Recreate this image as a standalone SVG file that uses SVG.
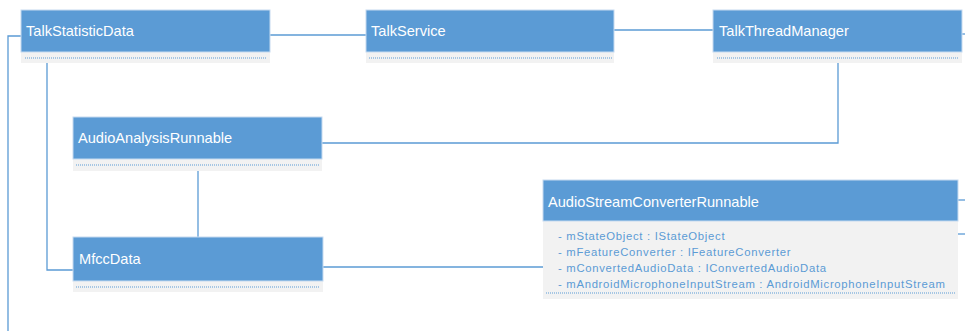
<svg xmlns="http://www.w3.org/2000/svg" width="965" height="331" viewBox="0 0 965 331">
<style>
.hd{fill:#5b9bd5;stroke:#c5daf0;stroke-width:1}
.bd{fill:#f2f2f2}
.dot{stroke:#5b9bd5;stroke-width:1;stroke-dasharray:1 1;fill:none}
.t{font-family:"Liberation Sans",Arial,sans-serif;font-size:14.6px;fill:#ffffff}
.a{font-family:"Liberation Sans",Arial,sans-serif;font-size:11.3px;letter-spacing:0.7px;fill:#5b9bd5}
.c{stroke:#5b9bd5;stroke-width:1.3;fill:none}
</style>
<rect width="965" height="331" fill="#ffffff"/>
<g id="connectors">
<polyline class="c" points="21,36 8,36 8,331"/>
<polyline class="c" points="47,63 47,270 73,270"/>
<line class="c" x1="270" y1="35" x2="366" y2="35"/>
<line class="c" x1="614" y1="30" x2="713" y2="30"/>
<line class="c" x1="962" y1="34" x2="965" y2="34"/>
<polyline class="c" points="838,63 838,143 322,143"/>
<line class="c" x1="198" y1="171" x2="198" y2="237"/>
<line class="c" x1="323" y1="267" x2="543" y2="267"/>
<line class="c" x1="958" y1="200" x2="965" y2="200"/>
<line class="c" x1="958" y1="234" x2="965" y2="234"/>
</g>
<g id="TalkStatisticData">
<rect class="bd" x="21" y="52" width="249" height="11"/>
<rect class="hd" x="21" y="10" width="249" height="42"/>
<line class="dot" x1="25" y1="58" x2="267" y2="58"/>
<text class="t" x="26" y="36">TalkStatisticData</text>
</g>
<g id="TalkService">
<rect class="bd" x="366" y="52" width="248" height="11"/>
<rect class="hd" x="366" y="10" width="248" height="42"/>
<line class="dot" x1="369" y1="58" x2="612" y2="58"/>
<text class="t" x="371" y="36">TalkService</text>
</g>
<g id="TalkThreadManager">
<rect class="bd" x="713" y="52" width="249" height="11"/>
<rect class="hd" x="713" y="10" width="249" height="42"/>
<line class="dot" x1="717" y1="58" x2="959" y2="58"/>
<text class="t" x="719" y="36">TalkThreadManager</text>
</g>
<g id="AudioAnalysisRunnable">
<rect class="bd" x="73" y="159" width="249" height="12"/>
<rect class="hd" x="73" y="117" width="249" height="42"/>
<line class="dot" x1="76" y1="165" x2="319" y2="165"/>
<text class="t" x="78" y="143">AudioAnalysisRunnable</text>
</g>
<g id="MfccData">
<rect class="bd" x="73" y="281" width="250" height="11"/>
<rect class="hd" x="73" y="237" width="250" height="44"/>
<line class="dot" x1="76" y1="287" x2="320" y2="287"/>
<text class="t" x="79" y="264">MfccData</text>
</g>
<g id="AudioStreamConverterRunnable">
<rect class="bd" x="543" y="221" width="415" height="78"/>
<rect class="hd" x="543" y="180" width="415" height="41"/>
<line class="dot" x1="546" y1="293" x2="955" y2="293"/>
<text class="t" x="548" y="207">AudioStreamConverterRunnable</text>
<text class="a" x="558" y="240">- mStateObject : IStateObject</text>
<text class="a" x="558" y="256">- mFeatureConverter : IFeatureConverter</text>
<text class="a" x="558" y="272">- mConvertedAudioData : IConvertedAudioData</text>
<text class="a" x="558" y="288">- mAndroidMicrophoneInputStream : AndroidMicrophoneInputStream</text>
</g>
</svg>
